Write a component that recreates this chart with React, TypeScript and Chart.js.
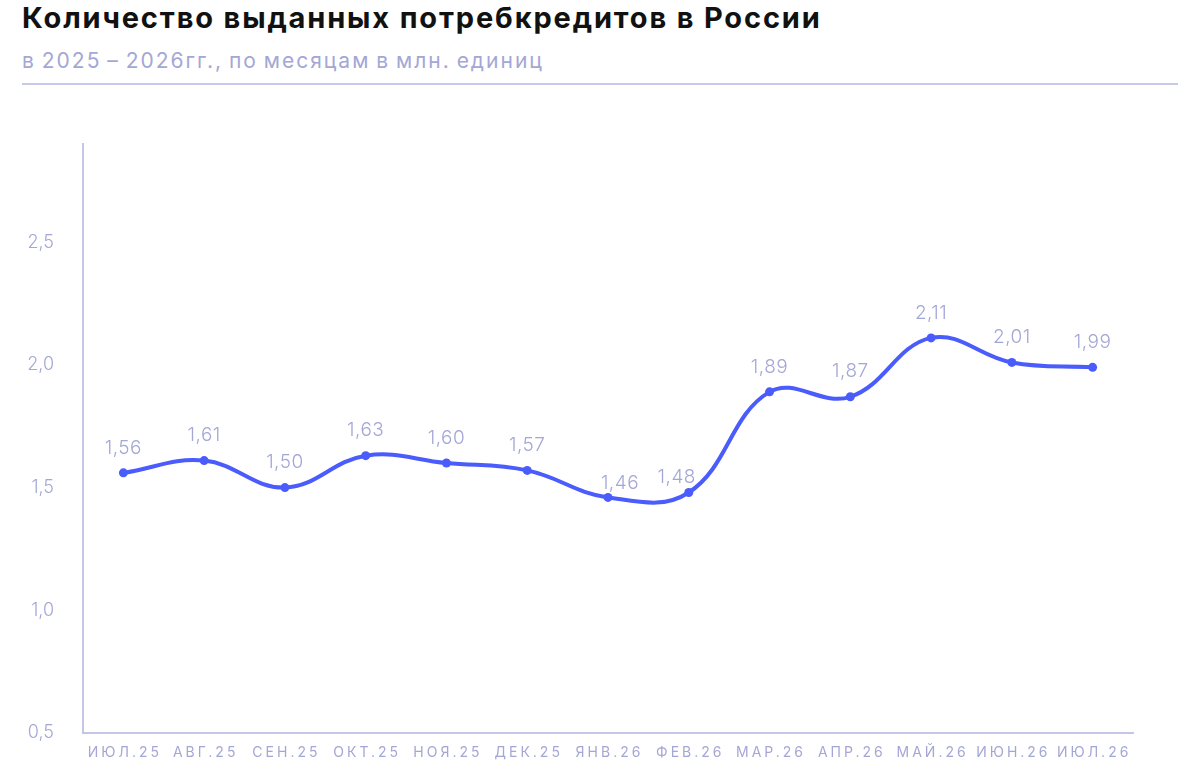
import { useEffect, useRef } from 'react';
import { Chart, registerables } from 'chart.js';

Chart.register(...registerables);

const months = [
    'ИЮЛ.25', 'АВГ.25', 'СЕН.25', 'ОКТ.25', 'НОЯ.25', 'ДЕК.25',
    'ЯНВ.26', 'ФЕВ.26', 'МАР.26', 'АПР.26', 'МАЙ.26', 'ИЮН.26', 'ИЮЛ.26',
];
const loans = [1.56, 1.61, 1.50, 1.63, 1.60, 1.57, 1.46, 1.48, 1.89, 1.87, 2.11, 2.01, 1.99];
const yTicks = [0.5, 1.0, 1.5, 2.0, 2.5];

const FONT = 'Inter, "Noto Sans", sans-serif';
const PALE = '#a3a7d5';
const LINE = '#4a5cfb';

const comma = (v: number, d: number) => v.toFixed(d).replace('.', ',');

// labels for янв/фев sit closer and pushed apart so they don't collide
const nudge: Record<number, [number, number]> = { 6: [12, 11], 7: [-12, 10] };

const labelsPlugin = {
    id: 'pointLabels',
    afterDraw(chart: any) {
        const ctx = chart.ctx;
        const meta = chart.getDatasetMeta(0);
        ctx.save();
        ctx.font = `300 19px ${FONT}`;
        ctx.fillStyle = PALE;
        ctx.textAlign = 'center';
        ctx.textBaseline = 'middle';
        (ctx as any).letterSpacing = '0.5px';
        meta.data.forEach((pt: any, i: number) => {
            const [dx, dy] = nudge[i] || [0, 0];
            ctx.fillText(comma(loans[i], 2), pt.x + dx, pt.y - 25 + dy);
        });

        // x labels, letter-spaced
        const x = chart.scales.x;
        ctx.font = `14px ${FONT}`;
        (ctx as any).letterSpacing = '3px';
        months.forEach((m, i) => {
            ctx.fillText(m, x.getPixelForValue(i) + 1.5, x.bottom - 27);
        });
        ctx.restore();
    },
};

const App = () => {
    const chartRef = useRef<HTMLCanvasElement | null>(null);
    const chartInstance = useRef<Chart | null>(null);

    useEffect(() => {
        if (!chartRef.current) return;
        if (chartInstance.current) chartInstance.current.destroy();

        chartInstance.current = new Chart(chartRef.current, {
            type: 'line',
            data: {
                labels: months,
                datasets: [{
                    data: loans,
                    borderColor: LINE,
                    backgroundColor: LINE,
                    borderWidth: 4,
                    tension: 0.4,
                    pointRadius: 4.5,
                    pointBorderWidth: 0,
                    pointBackgroundColor: LINE,
                }],
            },
            options: {
                animation: false,
                responsive: false,
                maintainAspectRatio: false,
                layout: { padding: { top: 44, right: 67, left: 0, bottom: 0 } },
                plugins: { legend: { display: false }, tooltip: { enabled: false } },
                scales: {
                    x: {
                        offset: true,
                        grid: { display: false },
                        border: { display: true, color: '#c3c6e6', width: 2 },
                        ticks: { display: false },
                        afterFit: (s: any) => { s.height = 47; },
                    },
                    y: {
                        min: 0.5,
                        max: 2.9,
                        grid: { display: false },
                        border: { display: true, color: '#c3c6e6', width: 2 },
                        afterBuildTicks: (s: any) => { s.ticks = yTicks.map((v) => ({ value: v })); },
                        ticks: {
                            color: PALE,
                            padding: 21,
                            font: { family: FONT, size: 18, weight: 300 },
                            callback: (v: any) => comma(Number(v), 1),
                        },
                        afterFit: (s: any) => { s.width = 83; },
                    },
                },
            },
            plugins: [labelsPlugin],
        });

        return () => {
            if (chartInstance.current) {
                chartInstance.current.destroy();
                chartInstance.current = null;
            }
        };
    }, []);

    return (
        <div style={{ position: 'fixed', left: 0, top: 0, width: 1200, height: 780, background: '#fff', fontFamily: FONT }}>
            <div style={{ position: 'absolute', left: 22, top: 0, fontSize: 29, fontWeight: 700, color: '#111', lineHeight: '36px', letterSpacing: '1.85px', whiteSpace: 'nowrap' }}>
                Количество выданных потребкредитов в России
            </div>
            <div style={{ position: 'absolute', left: 22, top: 47, fontSize: 21, color: PALE, lineHeight: '28px', letterSpacing: '2px', wordSpacing: '-2px', whiteSpace: 'nowrap' }}>
                в 2025 – 2026гг., по месяцам в млн. единиц
            </div>
            <div style={{ position: 'absolute', left: 22, top: 83, width: 1156, height: 2, background: '#c7cae8' }} />
            <canvas ref={chartRef} width={1200} height={680} style={{ position: 'absolute', left: 0, top: 100 }} />
        </div>
    );
};

export default App;
